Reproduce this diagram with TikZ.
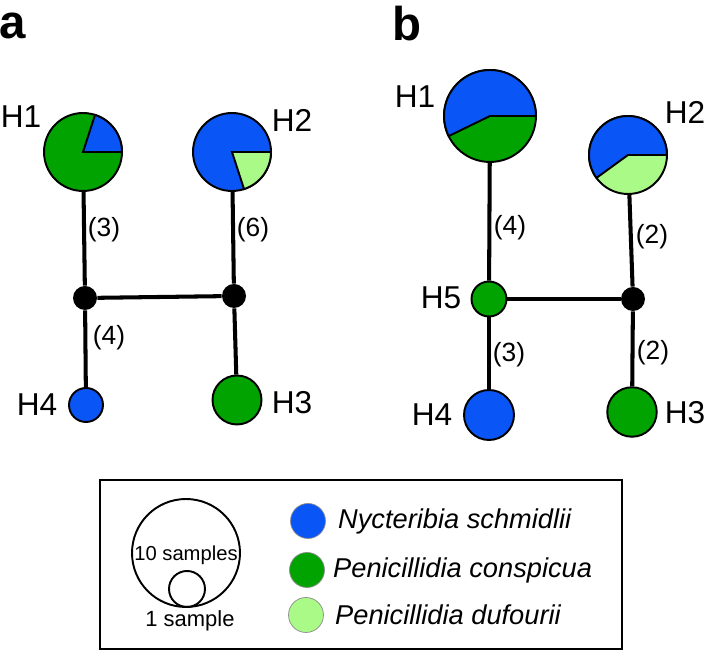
\documentclass[tikz,border=0pt]{standalone}
\usepackage{fontspec}
\setmainfont{Liberation Sans}
\usetikzlibrary{calc}
\definecolor{nblue}{HTML}{0A55F5}
\definecolor{pgreen}{HTML}{00A300}
\definecolor{plight}{HTML}{AAFA88}
\def\pieslice[#1](#2)(#3:#4:#5){\filldraw[#1] (#2) -- ++(#3:#5) arc (#3:#4:#5) -- cycle;}
\tikzset{
	hap/.style={circle, draw, line width=1.1pt, inner sep=0pt},
	mv/.style={circle, fill=black, inner sep=0pt, minimum size=0.48cm},
	link/.style={line width=2.3pt},
	hname/.style={font=\fontsize{18}{21}\selectfont},
	steps/.style={font=\fontsize{15}{18}\selectfont},
	panel/.style={font=\fontsize{27}{30}\selectfont\bfseries},
	species/.style={anchor=west, font=\fontsize{15.5}{18}\selectfont\itshape},
	key/.style={circle, draw=black!45, line width=0.4pt, inner sep=0pt, minimum size=0.7cm}
}

\begin{document}
\begin{tikzpicture}[x=0.02cm, y=0.02cm]
			%%%%% START %%%%%
			\useasboundingbox (0, 0) rectangle (708, 652);
			
			%% panel a
			\node[panel] (pa) at (13, 626) {a};
			
			\node[hap, fill=pgreen, minimum size=1.56cm] (H1a) at (83, 500) {};
			\node[hap, fill=nblue, minimum size=1.56cm] (H2a) at (232, 500) {};
			\node[mv] (m1a) at (85, 354) {};
			\node[mv] (m2a) at (234, 356) {};
			\node[hap, fill=nblue, minimum size=0.68cm] (H4a) at (86, 247) {};
			\node[hap, fill=pgreen, minimum size=0.98cm] (H3a) at (237, 252) {};
			
			\draw[link] (H1a) -- (m1a);
			\draw[link] (H2a) -- (m2a);
			\draw[link] (m1a) -- (m2a);
			\draw[link] (m1a) -- (H4a);
			\draw[link] (m2a) -- (H3a);
			
			\pieslice[fill=nblue, line width=1.1pt](H1a.center)(0:72:39)
			\pieslice[fill=plight, line width=1.1pt](H2a.center)(-72:0:39)
			
			\node[hname] (lH1a) at (21, 535) {H1};
			\node[hname] (lH2a) at (292, 532) {H2};
			\node[hname] (lH4a) at (37, 247) {H4};
			\node[hname] (lH3a) at (292, 249) {H3};
			\node[steps] (s1a) at (104, 422) {(3)};
			\node[steps] (s2a) at (253, 422) {(6)};
			\node[steps] (s3a) at (109, 314) {(4)};
			
			%% panel b
			\node[panel] (pb) at (407, 628) {b};
			
			\node[hap, fill=pgreen, minimum size=1.84cm] (H1b) at (490, 536) {};
			\node[hap, fill=plight, minimum size=1.56cm] (H2b) at (628, 497) {};
			\node[hap, fill=pgreen, minimum size=0.7cm] (H5b) at (489, 353) {};
			\node[mv] (m1b) at (633, 353) {};
			\node[hap, fill=nblue, minimum size=1.0cm] (H4b) at (489, 237) {};
			\node[hap, fill=pgreen, minimum size=0.99cm] (H3b) at (632, 240) {};
			
			\draw[link] (H1b) -- (H5b);
			\draw[link] (H5b) -- (H4b);
			\draw[link] (H5b) -- (m1b);
			\draw[link] (H2b) -- (m1b);
			\draw[link] (m1b) -- (H3b);
			
			\pieslice[fill=nblue, line width=1.1pt](H1b.center)(0:206:46)
			\pieslice[fill=nblue, line width=1.1pt](H2b.center)(0:216:39)
			
			\node[hname] (lH1b) at (415, 555) {H1};
			\node[hname] (lH2b) at (685, 540) {H2};
			\node[hname] (lH5b) at (441, 354) {H5};
			\node[hname] (lH4b) at (432, 237) {H4};
			\node[hname] (lH3b) at (685, 239) {H3};
			\node[steps] (s1b) at (510, 424) {(4)};
			\node[steps] (s2b) at (652, 415) {(2)};
			\node[steps] (s3b) at (509, 297) {(3)};
			\node[steps] (s4b) at (653, 299) {(2)};
			
			%% legend
			\draw[line width=1.1pt] (100, 3) rectangle (622, 172);
			\node[hap, minimum size=2.16cm] (ten) at (186, 99) {};
			\node[hap, minimum size=0.72cm] (one) at (187, 63) {};
			\node[font=\fontsize{11.5}{14}\selectfont] (lten) at (186, 97) {10 samples};
			\node[font=\fontsize{12.5}{15}\selectfont] (lone) at (190, 31) {1 sample};
			
			\node[key, fill=nblue] (k1) at (308, 131) {};
			\node[key, fill=pgreen] (k2) at (307, 82) {};
			\node[key, fill=plight] (k3) at (306, 37) {};
			\node[species] (t1) at (332, 131) {Nycteribia schmidlii};
			\node[species] (t2) at (327, 82) {Penicillidia conspicua};
			\node[species] (t3) at (329, 37) {Penicillidia dufourii};
			
			%%%%% END %%%%%
		\end{tikzpicture}
\end{document}
